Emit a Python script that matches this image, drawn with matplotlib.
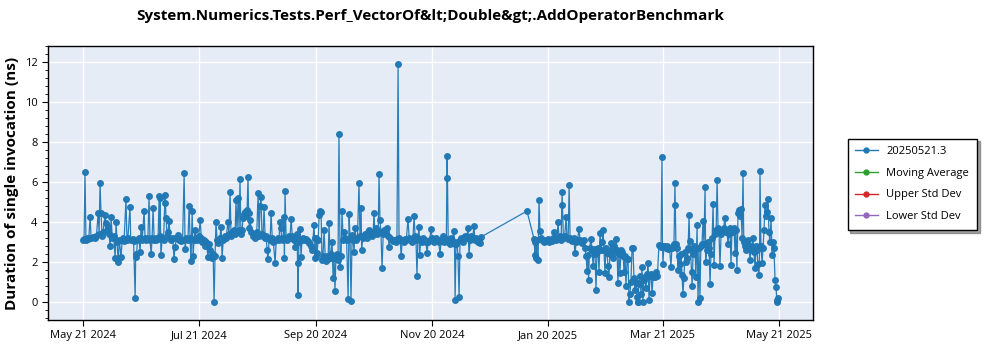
import numpy as np
import pandas as pd
import matplotlib
matplotlib.use("Agg")
import matplotlib.pyplot as plt
import matplotlib.dates as mdates
from matplotlib.lines import Line2D
from matplotlib.ticker import MultipleLocator

TITLE = "System.Numerics.Tests.Perf_VectorOf&lt;Double&gt;.AddOperatorBenchmark"
Y_LABEL = "Duration of single invocation (ns)"
START_DATE = "2024-05-21"
SERIES_LABELS = ["20250521.3", "Moving Average", "Upper Std Dev", "Lower Std Dev"]
SERIES_COLORS = ["#1f77b4", "#2ca02c", "#d62728", "#9467bd"]
X_TICK_DATES = ["2024-05-21", "2024-07-21", "2024-09-20", "2024-11-20",
                "2025-01-20", "2025-03-21", "2025-05-21"]

# day offsets from START_DATE and durations (ns), segment by segment
days_a = [0, 0.5, 1, 1.5, 2, 2.5, 3, 3.7, 4.2, 5, 6, 7, 7.9, 8.4, 8.9, 9.4, 10, 10.5,
          11.5, 12, 12.5, 13.1, 13.6, 14.2, 14.7, 15.3, 16, 16.8, 17.3, 17.8, 18.4, 19,
          19.9, 20.5, 21, 21.5, 22.5, 23, 23.5, 24.6, 25, 26, 26.5, 27.3, 27.6, 28, 28.5,
          29.3, 29.9, 30.4, 31, 32, 32.5, 33, 34, 34.6, 35.1, 35.7, 36.2, 36.7, 37.3, 38,
          38.5, 39.3, 39.9, 40.2, 40.4, 40.8, 41.5, 42.2, 43, 43.2, 43.5, 44, 44.5, 45.1,
          45.7, 46.3, 47, 47.7, 48.2, 49, 49.8, 50.4, 51, 51.6, 52.2, 53, 53.5, 54.2, 55,
          55.6, 56.1, 56.6, 57.2, 57.7, 58.2, 58.7, 59.3, 60]
vals_a = [3.1, 3.15, 6.5, 3.1, 3.2, 3.15, 3.2, 4.25, 3.2, 3.25, 3.2, 3.3, 4.45, 3.4, 5.95, 4.45, 3.3, 3.5,
          4.35, 3.95, 3.6, 3.75, 3.4, 2.8, 4.25, 3.2, 3.3, 2.2, 4.0, 3.0, 2.0, 3.1,
          2.25, 3.1, 3.2, 3.05, 5.15, 3.1, 3.2, 4.75, 3.1, 3.15, 3.05, 0.2, 2.4, 2.25, 3.1,
          3.2, 2.5, 3.75, 3.1, 4.55, 3.2, 3.1, 3.2, 5.3, 3.1, 2.4, 3.2, 4.7, 3.1, 3.2,
          3.1, 3.15, 5.3, 3.3, 5.2, 2.35, 3.2, 3.1, 5.35, 4.95, 4.2, 3.3, 3.5, 4.05,
          3.2, 3.1, 3.2, 2.15, 2.75, 3.2, 3.35, 3.1, 3.15, 3.05, 3.1, 6.45, 2.65, 3.2, 3.1,
          4.8, 3.2, 2.05, 4.55, 2.3, 3.1, 3.6, 3.2, 3.1]

days_b = [60.7, 61.4, 62, 62.6, 63.2, 64, 64.6, 65.5, 66, 66.6, 67.1, 67.6, 68.2, 68.7,
          69.2, 69.7, 70.3, 71, 71.7, 72.4, 72.9, 73.5, 74.2, 75, 76, 76.5, 77.1, 77.6,
          78.3, 79.2, 79.7, 80.2, 80.7, 81.3, 81.8, 82.3, 82.8, 83.4, 83.9, 84.4, 84.9,
          85.5, 86, 86.5, 86.8, 87.2, 87.6, 88.3, 89, 89.7, 90.4, 91.1, 91.8, 92.3, 92.8,
          93.3, 93.8, 94.4, 94.9, 95.5, 96, 96.5, 97, 97.6, 98.1, 98.6, 99.2, 99.8, 100.7,
          101.3, 102, 102.7, 103.3, 103.6, 104.2, 104.8, 105.4, 105.6, 105.9, 106.5, 107.2,
          108, 108.5, 109.1, 109.7, 110.4, 111.2, 111.7, 112.2, 112.5, 112.7, 113.2, 113.8,
          114.3, 114.8, 115.5, 116.2, 117, 117.8, 118.5, 119.3, 120.2, 121.1, 121.4, 121.7,
          122, 122.2, 122.7, 123.3, 123.8, 124.3, 124.8, 125.3]
vals_b = [3.3, 4.1, 3.2, 3.0, 3.1, 2.8, 3.0, 2.25, 2.9, 2.6, 2.25, 2.2, 2.4, 0.0,
          2.3, 4.0, 3.1, 2.95, 3.2, 3.75, 2.2, 3.1, 3.3, 3.2, 4.0, 3.4, 5.5, 3.3,
          3.5, 3.6, 3.4, 5.1, 3.5, 5.2, 3.6, 6.15, 3.4, 3.6, 4.2, 4.4, 4.5,
          4.3, 4.6, 6.25, 4.45, 3.7, 4.1, 3.5, 3.3, 3.4, 3.2, 3.5, 5.45, 3.3, 4.8,
          5.25, 3.4, 3.3, 4.75, 3.2, 3.3, 2.6, 2.15, 3.2, 3.1, 4.45, 3.2, 3.0, 1.95,
          3.1, 3.2, 3.1, 4.0, 3.7, 3.2, 3.1, 4.25, 2.2, 5.55, 3.2, 3.1,
          3.3, 3.2, 4.15, 3.3, 3.1, 2.75, 3.2, 3.4, 1.95, 0.35, 3.0, 3.65,
          2.25, 3.1, 3.2, 3.1, 3.15, 3.05, 2.95, 2.8, 2.6, 3.85, 3.2, 2.2,
          2.25, 3.2, 2.45, 3.1, 4.35, 4.55, 4.5, 2.1]

days_c = [125.8, 126.4, 127, 127.5, 128, 128.5, 129, 129.5, 130, 130.6, 131.1, 131.6,
          132.1, 132.6, 133.2, 133.7, 134.2, 134.8, 135.3, 135.8, 136.4, 136.9, 137.5,
          138.2, 139, 139.5, 140, 140.5, 141.1, 141.6, 142.1, 142.6, 143.2, 143.9, 144.7,
          145.2, 145.8, 146.1, 146.7, 147.3, 148, 148.7, 149.4, 150.1, 150.8, 151.5, 152.1,
          152.6, 153, 153.5, 154.2, 154.8, 155.2, 155.7, 156.2, 156.8, 157.4, 158, 158.7,
          159.4, 160, 160.5, 161.1, 161.8, 162.5, 163.2, 164, 164.6, 165.2, 165.7, 166.3,
          166.8, 167.4, 168.1, 168.8, 169.5, 170.4, 171, 171.7, 172.4, 173, 173.6, 174.1,
          174.6, 175.1, 175.6, 176.2, 176.5, 177.1, 177.8, 178.5, 179.2, 179.8, 180.4, 181,
          181.7, 182.5, 183.1, 183.8, 184.5, 185.2, 185.9, 186.5, 187.2, 187.8, 188.5, 189.2,
          189.9, 190.5, 190.9, 191.1, 191.5, 192.2, 192.9, 193.6, 194.5, 194.8, 195.1, 195.6,
          196.1, 196.6, 197.2, 197.7, 198.3, 199, 199.7, 200.4, 201.1, 201.9, 202.4, 203,
          203.6, 204.3, 205, 205.5, 206.2, 206.9, 207.5, 208.2, 208.7, 232.8]
vals_c = [2.3, 3.6, 2.2, 2.05, 2.3, 2.15, 3.95, 2.2, 2.4, 3.0, 1.2, 2.2,
          0.55, 2.3, 2.4, 2.1, 8.4, 1.75, 2.3, 4.55, 3.1, 3.5, 3.2,
          3.1, 0.15, 4.4, 3.2, 0.05, 3.35, 3.1, 2.5, 3.7, 3.1, 3.2, 5.95,
          3.3, 4.7, 2.6, 3.2, 3.3, 3.4, 3.2, 3.5, 3.6, 3.4, 3.3, 3.5,
          4.45, 3.5, 3.7, 3.4, 3.5, 6.4, 4.1, 3.5, 1.7, 3.4, 3.6, 3.5,
          3.7, 3.3, 2.75, 3.2, 3.1, 3.05, 3.1, 3.0, 3.15, 11.9, 3.2, 3.1,
          2.3, 3.1, 3.0, 3.15, 3.1, 4.15, 3.2, 3.1, 3.0, 3.2, 4.3, 3.3,
          3.1, 1.3, 3.2, 3.75, 2.35, 3.1, 3.0, 3.2, 3.1, 3.0, 2.45, 3.0,
          3.1, 3.65, 3.2, 3.0, 3.1, 3.2, 3.1, 3.0, 2.4, 3.1, 3.3, 3.0,
          3.2, 3.1, 7.3, 6.2, 3.0, 2.9, 3.2, 3.1, 3.55, 2.9, 0.1, 2.9,
          3.0, 2.3, 0.25, 3.1, 3.2, 3.0, 3.2, 3.3, 3.2, 3.7, 2.35, 3.1,
          3.3, 3.2, 3.8, 3.1, 3.2, 3.0, 3.1, 2.95, 3.25, 4.55]

days_d = [236.5, 237, 237.2, 237.5, 238, 238.6, 239.1, 239.6, 240.2, 240.8, 241.5, 242.2,
          243, 243.7, 244.4, 245.2, 245.9, 246.5, 247.2, 247.8, 248.5, 249.1, 249.6, 250.2,
          250.7, 251.2, 251.4, 251.9, 252.6, 253.3, 253.8, 254.4, 254.9, 255.4, 256, 256.6,
          257.3, 258, 258.6, 259.3, 260.1, 260.6, 261.2, 261.8, 262.5, 263.2, 263.8, 264.3,
          264.8, 265.1, 265.6, 266.4, 266.9, 267.5, 268, 268.5, 269, 269.5, 270, 270.6,
          271.1, 271.7, 272.2, 272.7, 273.2, 273.7, 274.2, 274.8, 275.3, 275.8, 276.3, 276.9,
          277.4, 278, 278.6, 279.1, 279.5, 280, 280.5, 281, 281.6, 282.1, 282.6, 283.2,
          283.7, 284.2, 284.7, 285.3, 285.8, 286.3, 286.8, 287.3, 287.9, 288.4, 288.9, 289.4,
          290, 290.5, 290.8, 291, 291.5, 292, 292.6, 293.1, 293.6, 294.1, 294.7, 295.2,
          295.8, 296.3, 296.8, 297.3, 297.8, 298.4, 298.9, 299.4, 299.9, 300.5, 301.2, 302,
          302.6, 303.1, 303.6, 303.9, 304.1, 304.6, 305.2, 305.8, 306.4, 307, 307.6, 308.3,
          308.8, 309.4, 309.9, 310.4, 310.6, 310.9, 311.4, 312, 312.5, 313.1, 313.6, 314.1,
          314.6, 315.1, 315.7, 316.2, 316.8, 317.3, 317.8, 318.1, 318.6, 319.1, 319.4, 319.9,
          320.4, 320.9, 321.4, 322, 322.5, 323, 323.5, 324, 324.6, 325.1, 325.6, 326.2,
          326.5, 327, 327.7, 328.3, 328.8, 329.3, 329.9, 330.4, 330.9, 331.4, 332, 332.5,
          333, 333.5, 334, 334.6, 335.2, 335.9, 336.6, 337.1, 337.7, 338.2, 338.8, 339.3,
          339.8, 340.3, 340.8, 341.4, 341.9, 342.4, 342.9, 343.5, 344, 344.5, 345, 345.6,
          346.1, 346.5, 347.1, 347.6, 348.2, 348.7, 349.2, 349.8, 350.3, 350.8, 351.3, 351.8,
          352.4, 352.9, 353.4, 353.9, 354.5, 354.8, 355, 355.5, 356.1, 356.6, 357.1, 357.6,
          358.1, 358.6, 359.2, 359.7, 360.2, 360.8, 361.3, 361.8, 362.3, 362.9, 363.4, 363.9,
          364.1, 364.4]
vals_d = [3.15, 2.35, 3.0, 2.2, 3.1, 2.1, 5.1, 3.55, 3.2, 3.1, 3.0, 3.05,
          3.1, 3.15, 3.0, 3.1, 3.05, 3.2, 3.5, 3.1, 3.2, 4.0, 3.2, 3.3,
          3.1, 5.5, 4.85, 3.2, 3.3, 4.25, 3.2, 3.15, 5.85, 3.2, 3.1, 3.05,
          3.2, 2.45, 3.0, 3.1, 3.65, 3.1, 3.0, 2.95, 3.1, 2.7, 2.3, 1.55,
          2.35, 1.1, 2.7, 3.15, 2.6, 1.8, 2.65, 2.4, 0.6, 2.5, 2.7, 1.5,
          3.45, 2.6, 3.0, 3.6, 2.6, 1.45, 2.7, 2.45, 1.8, 1.25, 2.4, 2.95,
          2.6, 2.2, 2.8, 2.5, 3.15, 2.6, 0.95, 2.4, 1.45, 2.6, 2.5, 2.3,
          1.5, 2.3, 0.8, 2.15, 2.15, 0.0, 0.4, 1.0, 2.7, 2.7, 1.2, 0.6,
          1.0, 0.25, 0.0, 0.0, 0.9, 1.3, 0.4, 1.75, 0.0, 1.1, 1.25, 0.7,
          1.4, 1.95, 0.1, 1.3, 1.4, 0.45, 1.25, 1.3, 1.25, 1.5, 1.3, 2.85,
          2.8, 2.75, 7.25, 2.8, 1.9, 2.8, 2.75, 2.7, 2.8, 2.65, 2.7, 1.75,
          2.7, 2.8, 2.9, 5.95, 4.85, 2.9, 2.7, 1.6, 2.3, 1.9, 2.4, 1.35,
          0.4, 1.2, 2.5, 2.0, 2.2, 2.7, 4.35, 3.05, 2.6, 1.5, 0.8, 2.4,
          2.8, 2.6, 1.25, 3.85, 0.0, 2.7, 0.2, 2.8, 2.9, 4.05, 2.9, 5.75,
          2.0, 2.6, 3.0, 2.7, 0.9, 2.4, 3.2, 4.9, 1.85, 3.4, 3.6, 6.1,
          3.7, 3.5, 1.8, 3.4, 3.6, 3.7, 4.2, 3.5, 3.6, 2.9, 3.4, 3.7,
          1.85, 3.6, 3.5, 3.7, 2.45, 3.6, 1.6, 4.45, 4.6, 4.3, 4.65, 3.2,
          6.45, 3.0, 2.8, 2.6, 2.9, 3.1, 2.7, 2.1, 2.8, 2.6, 3.2, 2.5,
          1.7, 2.8, 2.6, 1.9, 1.35, 2.8, 6.55, 2.8, 1.95, 2.7, 3.6, 4.85,
          4.3, 4.5, 5.15, 3.5, 3.0, 4.2, 2.35, 3.0, 2.7, 1.1, 0.75, 0.0,
          0.1, 0.2]

day_offsets = days_a + days_b + days_c + days_d
durations = vals_a + vals_b + vals_c + vals_d

start = pd.Timestamp(START_DATE)
dates = start + pd.to_timedelta(day_offsets, unit="D")

plt.rcParams['font.family'] = ['Open Sans', 'DejaVu Sans']

fig = plt.figure(figsize=(10, 3.5), dpi=100)
ax = fig.add_axes([0.048, 0.086, 0.765, 0.782])
ax.set_facecolor("#e5ecf6")

ax.plot(dates, durations, color=SERIES_COLORS[0], linewidth=0.9, marker="o",
        markersize=4, alpha=0.95, zorder=3)

ax.set_ylim(-0.9, 12.8)
ax.set_xlim(start + pd.Timedelta(days=-18.4), start + pd.Timedelta(days=382.8))
ax.yaxis.set_major_locator(MultipleLocator(2))
ax.yaxis.set_minor_locator(MultipleLocator(0.4))
ax.set_xticks([pd.Timestamp(d) for d in X_TICK_DATES])
ax.xaxis.set_major_formatter(mdates.DateFormatter("%b %d %Y"))
ax.grid(True, which="major", color="white", linewidth=1.0, zorder=0)
ax.set_axisbelow(True)
for s in ax.spines.values():
    s.set_color("black")
    s.set_linewidth(1.0)
ax.tick_params(axis="both", labelsize=8, length=4)
ax.tick_params(axis="y", which="minor", length=2.5)

ax.set_ylabel(Y_LABEL, fontsize=11, fontweight="bold")
fig.suptitle(TITLE, fontsize=11, fontweight="bold", x=0.43, y=0.975)

handles = [Line2D([0], [0], color=c, marker="o", markersize=3.5, linewidth=1.0)
           for c in SERIES_COLORS]
leg = fig.legend(handles, SERIES_LABELS, loc="upper left", bbox_to_anchor=(0.842, 0.62),
                 fontsize=8, frameon=True, fancybox=False, shadow=True,
                 edgecolor="black", handlelength=2.0, borderpad=0.7, labelspacing=0.95)
leg.get_frame().set_linewidth(1.0)

fig.savefig("out.png", dpi=100)
